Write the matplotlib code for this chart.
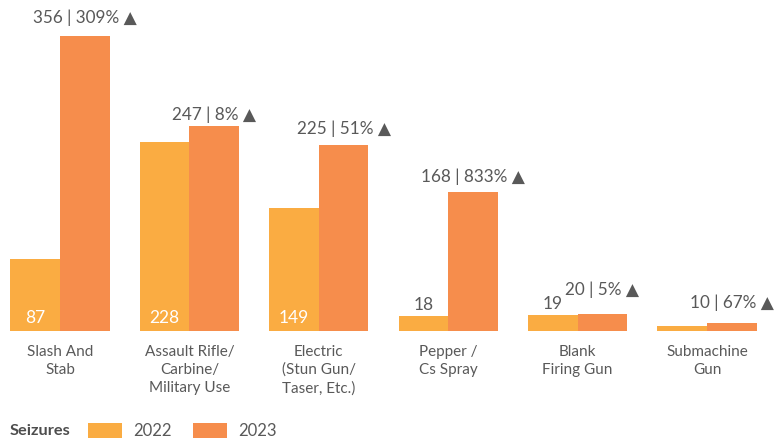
import matplotlib.pyplot as plt
import numpy as np

plt.rcParams['font.family'] = ['Lato', 'DejaVu Sans']

categories = ['Slash And\nStab', 'Assault Rifle/\nCarbine/\nMilitary Use', 'Electric\n(Stun Gun/\nTaser, Etc.)',
              'Pepper /\nCs Spray', 'Blank\nFiring Gun', 'Submachine\nGun']
seizures_2022 = [87, 228, 149, 18, 19, 6]
seizures_2023 = [356, 247, 225, 168, 20, 10]
pct_change = ['309%', '8%', '51%', '833%', '5%', '67%']

c22 = '#FAAC42'
c23 = '#F68D4C'
grey = '#595959'

fig = plt.figure(figsize=(7.76, 4.41), dpi=100)
ax = fig.add_axes([0, 1 - 331 / 441, 1, 331 / 441])

x = np.arange(len(categories))
w = 0.383
ax.bar(x - w / 2, seizures_2022, w, color=c22, label='2022')
ax.bar(x + w / 2, seizures_2023, w, color=c23, label='2023')

ax.set_xlim(-60 / 129.4, 716 / 129.4)
ax.set_ylim(0, 331 / 0.8287)

# 2022 values: inside the bar when it is tall enough, above otherwise
for i, v in enumerate(seizures_2022):
    if v >= 40:
        ax.annotate(str(v), (x[i] - w / 2, 0), xytext=(0, 9.5), textcoords='offset points',
                    ha='center', va='center', color='white', fontsize=12.5)
    elif v >= 15:
        ax.annotate(str(v), (x[i] - w / 2, v), xytext=(0, 8), textcoords='offset points',
                    ha='center', va='center', color=grey, fontsize=12.5)

# 2023 values with change vs 2022
lift = [18, 12, 16, 15, 25, 20]
for i, v in enumerate(seizures_2023):
    ax.annotate(f'{v} | {pct_change[i]} \u25B2', (x[i] + w / 2, v), xytext=(0, lift[i] * 0.72),
                textcoords='offset points', ha='center', va='center', color=grey, fontsize=12.3)

ax.set_xticks(x)
ax.set_xticklabels(categories, fontsize=11, color=grey, linespacing=1.35, va='top')
ax.tick_params(axis='x', length=0, pad=10)
ax.set_yticks([])
for s in ax.spines.values():
    s.set_visible(False)

fig.text(10 / 776, 1 - 431 / 441, 'Seizures', fontsize=11.8, fontweight='bold', color='#4d4d4d',
         ha='left', va='center')
fig.legend(loc='center left', bbox_to_anchor=(88 / 776, 1 - 431 / 441), ncol=2, frameon=False,
           fontsize=12, handlelength=2.05, handleheight=0.96, columnspacing=1.3, handletextpad=0.65,
           borderpad=0, borderaxespad=0, labelcolor=grey)

fig.savefig('out.png', dpi=100)
